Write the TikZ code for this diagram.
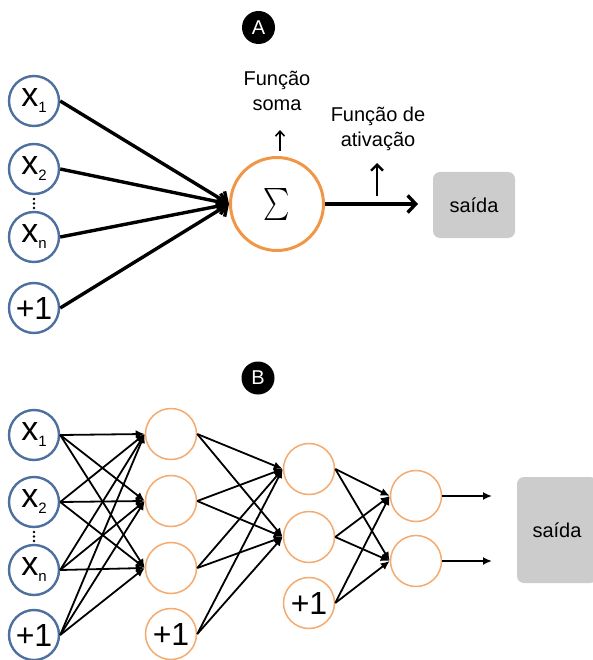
\documentclass[tikz,border=0pt]{standalone}
\usepackage{fontspec}
\usepackage{graphicx}
\setmainfont{Liberation Sans}
\usetikzlibrary{arrows.meta}

\definecolor{inblue}{RGB}{78,112,160}
\definecolor{neuron}{RGB}{240,150,70}
\definecolor{neuronlight}{RGB}{245,170,110}
\definecolor{outgray}{RGB}{204,204,204}

% label of an input unit: large x with a small subscript
\newcommand{\inlabel}[1]{{\fontsize{34}{34}\selectfont x}\raisebox{-6pt}{\fontsize{15}{15}\selectfont #1}}

\begin{document}
\begin{tikzpicture}[x=1pt,y=-1pt,
  inp/.style={circle,draw=inblue,line width=2.4pt,minimum size=50pt,inner sep=0pt},
  hid/.style={circle,draw=neuronlight,line width=1.5pt,minimum size=51pt,inner sep=0pt},
  sumnode/.style={circle,draw=neuron,line width=3pt,minimum size=93pt,inner sep=0pt},
  bias/.style={font=\fontsize{32}{32}\selectfont},
  badge/.style={circle,fill=black,text=white,minimum size=33pt,inner sep=0pt,font=\fontsize{20}{20}\selectfont},
  outbox/.style={fill=outgray,rounded corners=7pt,inner sep=0pt,font=\fontsize{20}{24}\selectfont},
  lbl/.style={font=\fontsize{20}{25}\selectfont,align=center,inner sep=0pt,anchor=north},
  wA/.style={line width=3.4pt,-{Straight Barb[length=8pt,width=17pt]}},
  upA/.style={line width=1.6pt,-{Straight Barb[length=5pt,width=9pt]}},
  upB/.style={line width=2.4pt,-{Straight Barb[length=6pt,width=12pt]}},
  wB/.style={line width=1.8pt,-{Latex[length=9pt,width=8pt]}},
  dot/.style={circle,fill=black,inner sep=0pt,minimum size=2.6pt}
]
\useasboundingbox (0,0) rectangle (593,660);

% ---------------- A: single neuron ----------------
\node[badge] (bA) at (258.5,27.5) {A};

\node[inp] (a1) at (34,101) {\inlabel{1}};
\node[inp] (a2) at (34,169) {\inlabel{2}};
\node[inp] (a3) at (34,237) {\inlabel{n}};
\node[inp,bias] (a4) at (34,308) {+1};
\node[dot] (ad1) at (34,199) {};
\node[dot] (ad2) at (34,203.5) {};
\node[dot] (ad3) at (34,208) {};

\node[sumnode] (sig) at (277,204) {\scalebox{2.5}[3.2]{$\sum$}};

\node[outbox,minimum width=82pt,minimum height=66pt] (outA) at (474,205) {saída};

\foreach \i in {1,...,4} \draw[wA] (a\i.east) -- (sig.west);
\coordinate (aend) at (418,204);
\draw[wA] (sig.east) -- (aend);

\node[lbl] (lsum) at (277,71) {Função\\soma};
\coordinate (sumfoot) at (280,151);
\coordinate (sumhead) at (280,130);
\draw[upA] (sumfoot) -- (sumhead);

\node[lbl] (lact) at (378,107) {Função de\\ativação};
\coordinate (actfoot) at (377,196);
\coordinate (acthead) at (377,163);
\draw[upB] (actfoot) -- (acthead);

% ---------------- B: multilayer network ----------------
\node[badge] (bB) at (258,378) {B};

\node[inp] (b1) at (34,435) {\inlabel{1}};
\node[inp] (b2) at (34,502) {\inlabel{2}};
\node[inp] (b3) at (34,570) {\inlabel{n}};
\node[inp,bias] (b4) at (34,635) {+1};
\node[dot] (bd1) at (34,532) {};
\node[dot] (bd2) at (34,536.5) {};
\node[dot] (bd3) at (34,541) {};

\node[hid] (h1) at (171,434) {};
\node[hid] (h2) at (171,501) {};
\node[hid] (h3) at (171,568) {};
\node[hid,bias] (h4) at (171,634) {+1};

\node[hid] (g1) at (309,469) {};
\node[hid] (g2) at (309,537) {};
\node[hid,bias] (g3) at (309,603) {+1};

\node[hid] (k1) at (416,496) {};
\node[hid] (k2) at (416,561) {};

\node[outbox,minimum width=80pt,minimum height=106pt] (outB) at (557,530) {saída};

\foreach \i in {1,...,4}
  \foreach \j in {1,2,3}
    \draw[wB] (b\i.east) -- (h\j.west);
\foreach \i in {1,...,4}
  \foreach \j in {1,2}
    \draw[wB] (h\i.east) -- (g\j.west);
\foreach \i in {1,2,3}
  \foreach \j in {1,2}
    \draw[wB] (g\i.east) -- (k\j.west);

\coordinate (kend1) at (492,496);
\coordinate (kend2) at (492,561);
\draw[wB] (k1.east) -- (kend1);
\draw[wB] (k2.east) -- (kend2);
\end{tikzpicture}
\end{document}
